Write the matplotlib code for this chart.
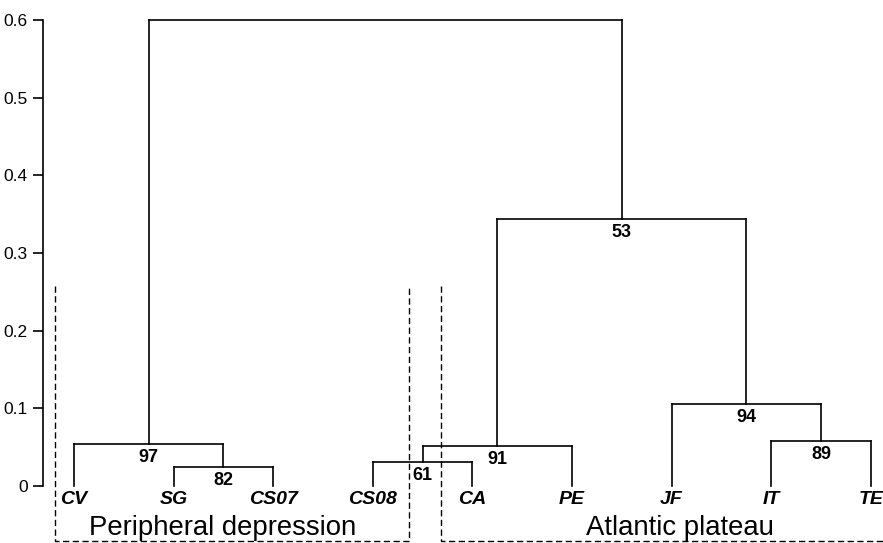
import matplotlib
matplotlib.use("Agg")
import matplotlib.pyplot as plt

plt.rcParams['font.family'] = ['Liberation Sans', 'DejaVu Sans']

# =========================
# DATA
# =========================

leaves = ["CV", "SG", "CS07", "CS08", "CA", "PE", "JF", "IT", "TE"]

# merges: node ids 0..8 are leaves, 9.. are clusters in order
merge_left = [1, 0, 3, 11, 7, 6, 12, 10]
merge_right = [2, 9, 4, 5, 8, 13, 14, 15]
merge_height = [0.024, 0.054, 0.031, 0.051, 0.058, 0.106, 0.344, 0.600]
support = ["82", "97", "61", "91", "89", "94", "53", ""]

groups = ["Peripheral depression", "Atlantic plateau"]
group_first = [0, 4]
group_last = [3, 8]

yticks = [0, 0.1, 0.2, 0.3, 0.4, 0.5, 0.6]
ytick_labels = ["0", "0.1", "0.2", "0.3", "0.4", "0.5", "0.6"]

# =========================
# FIGURE
# =========================

fig = plt.figure(figsize=(8.83, 5.43), dpi=100)
ax = fig.add_axes([0, 0, 1, 1])
ax.set_xlim(-0.743, 8.122)
ax.set_ylim(-0.0734, 0.6257)

line_kw = dict(color="black", lw=1.2, solid_capstyle="projecting")

xpos = list(range(len(leaves)))
ypos = [0.0] * len(leaves)

for l, r, h, s in zip(merge_left, merge_right, merge_height, support):
    xl, xr = xpos[l], xpos[r]
    ax.plot([xl, xl], [ypos[l], h], **line_kw)
    ax.plot([xr, xr], [ypos[r], h], **line_kw)
    ax.plot([xl, xr], [h, h], **line_kw)
    xm = (xl + xr) / 2
    xpos.append(xm)
    ypos.append(h)
    if s:
        ax.annotate(s, (xm, h), xytext=(0, -5), textcoords="offset pixels",
                    ha="center", va="top", fontsize=13, fontweight="bold")

for i, name in enumerate(leaves):
    ax.annotate(name, (i, 0), xytext=(0, -5), textcoords="offset pixels",
                ha="center", va="top", fontsize=14, fontweight="bold",
                fontstyle="italic")

# =========================
# GROUP BOXES
# =========================

box_top = 0.257
box_bottom = -0.0708
dash_kw = dict(color="black", lw=1.0, linestyle=(0, (4.5, 2.5)), clip_on=True)

# peripheral depression
x0 = group_first[0] - 0.19
x1 = group_last[0] + 0.36
ax.plot([x0, x0, x1, x1], [box_top, box_bottom, box_bottom, box_top], **dash_kw)
ax.text((group_first[0] + group_last[0]) / 2 - 0.01, -0.063, groups[0],
        ha="center", va="baseline", fontsize=19.8)

# atlantic plateau (open to the right)
x0 = group_first[1] - 0.315
x1 = group_last[1] + 0.5
ax.plot([x0, x0, x1], [box_top, box_bottom, box_bottom], **dash_kw)
ax.text(6.08, -0.063, groups[1], ha="center", va="baseline", fontsize=19.8)

# =========================
# AXIS
# =========================

for side in ["top", "right", "bottom"]:
    ax.spines[side].set_visible(False)
ax.spines["left"].set_position(("data", -0.311))
ax.spines["left"].set_bounds(0, 0.6)
ax.spines["left"].set_linewidth(1.2)
ax.set_xticks([])
ax.set_yticks(yticks)
ax.set_yticklabels(ytick_labels)
ax.tick_params(axis="y", length=7, width=1.2, pad=4, labelsize=12.5)

fig.savefig("out.png", dpi=100)
